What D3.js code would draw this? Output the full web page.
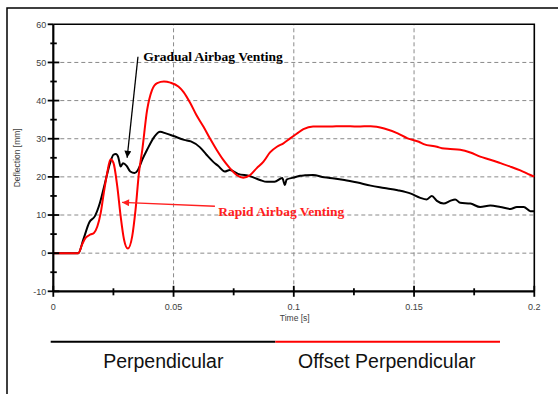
<!DOCTYPE html>
<html><head><meta charset="utf-8">
<script src="https://cdn.jsdelivr.net/npm/d3@7"></script>
<style>html,body{margin:0;padding:0;background:#fff;}svg{display:block;}</style>
</head><body>
<script>
// ---- data ----
const seriesNames = ["Perpendicular", "Offset Perpendicular"];
const seriesColors = ["#000000", "#ff0000"];
const yMajorTicks = [-10, 0, 10, 20, 30, 40, 50, 60];
const yMinorTicks = [-5, 5, 15, 25, 35, 45, 55];
const xMajorTicks = [0, 0.05, 0.1, 0.15, 0.2];
const xMinorTicks = [0.025, 0.075, 0.125, 0.175];
const xTickLabels = ["0", "0.05", "0.1", "0.15", "0.2"];
// [time s, deflection mm]
const perpendicular = [[0,0],[0.0104,0],[0.0125,3.6],[0.015,8.1],[0.0173,9.7],[0.0194,13.2],[0.0215,18.4],[0.0236,23.6],[0.025,25.8],[0.026,26.0],[0.027,25.2],[0.028,22.7],[0.029,23.6],[0.0305,22.9],[0.032,21.4],[0.0338,21.0],[0.0352,21.8],[0.037,24.5],[0.039,27.1],[0.042,30.5],[0.0444,31.8],[0.0468,31.4],[0.05,30.7],[0.0544,29.7],[0.0572,29.3],[0.0609,27.8],[0.0637,25.8],[0.0664,24.0],[0.0685,22.9],[0.0713,21.4],[0.0734,21.8],[0.0768,20.8],[0.0817,20.2],[0.0859,19.2],[0.0888,18.7],[0.092,18.7],[0.0952,19.7],[0.0963,17.9],[0.097,19.3],[0.0998,19.8],[0.1026,20.3],[0.1047,20.4],[0.108,20.5],[0.1126,19.9],[0.1168,19.6],[0.121,19.2],[0.1265,18.5],[0.132,17.7],[0.1376,17.1],[0.1432,16.5],[0.1487,15.6],[0.1526,14.5],[0.1553,14.1],[0.1574,15.0],[0.1595,13.7],[0.1623,13.0],[0.165,13.7],[0.1671,14.1],[0.1692,13.2],[0.1734,13.0],[0.1775,12.1],[0.1817,12.5],[0.1859,12.1],[0.19,11.6],[0.1928,12.1],[0.1956,12.1],[0.1984,11.0],[0.2,11.0]];
const offsetPerpendicular = [[0,0],[0.0104,0],[0.012,2.3],[0.0134,4.0],[0.0155,4.9],[0.0169,5.3],[0.0183,7.0],[0.0197,10.5],[0.021,15.8],[0.0224,21.0],[0.0238,24.6],[0.025,23.7],[0.0266,17.5],[0.028,9.7],[0.0294,3.6],[0.031,1.2],[0.0328,4.4],[0.0342,11.4],[0.0356,21.0],[0.037,27.1],[0.039,37.5],[0.041,42.7],[0.0432,44.6],[0.046,45.0],[0.0487,44.7],[0.052,43.7],[0.0541,42.3],[0.057,39.3],[0.0595,36.2],[0.0624,33.2],[0.0651,30.1],[0.0679,27.1],[0.0706,24.5],[0.0734,22.3],[0.0762,20.5],[0.079,19.8],[0.0817,20.4],[0.0846,22.3],[0.0874,24.0],[0.0901,26.4],[0.093,27.9],[0.0957,28.8],[0.0985,30.1],[0.1012,31.3],[0.104,32.5],[0.108,33.2],[0.1149,33.2],[0.1204,33.3],[0.1265,33.2],[0.132,33.3],[0.1376,32.7],[0.1432,31.4],[0.1473,30.1],[0.152,29.2],[0.154,28.6],[0.1595,27.9],[0.1616,27.5],[0.165,27.3],[0.1692,27.1],[0.1734,26.4],[0.1775,25.3],[0.1817,24.5],[0.1859,23.6],[0.19,22.7],[0.1942,21.7],[0.1984,20.5],[0.2,20.1]];
const annotations = [
  {text: "Gradual Airbag Venting", color: "#000000", tx: 0.0374, ty: 51.5, from: [0.0352, 51.5], to: [0.0307, 25.0]},
  {text: "Rapid Airbag Venting", color: "#ff2020", tx: 0.0686, ty: 10.8, from: [0.0672, 12.3], to: [0.0286, 13.3]}
];

// ---- layout ----
const W = 558, H = 394;
const svg = d3.select("body").append("svg").attr("width", W).attr("height", H);
const x = d3.scaleLinear().domain([0, 0.2]).range([53.3, 534.3]);
const y = d3.scaleLinear().domain([-10, 60]).range([291.3, 24.3]);

// outer frame
svg.append("rect").attr("x", 7).attr("y", 8).attr("width", 600).attr("height", 420)
  .attr("fill", "none").attr("stroke", "#000").attr("stroke-width", 1.5);

// gridlines
const grid = svg.append("g").attr("stroke", "#8a8a8a").attr("stroke-width", 1).attr("stroke-dasharray", "4,3");
grid.selectAll("line.h").data(yMajorTicks.filter(v => v > -10 && v < 60)).join("line")
  .attr("x1", x(0)).attr("x2", x(0.2)).attr("y1", d => y(d)).attr("y2", d => y(d));
grid.selectAll("line.v").data(xMajorTicks.filter(v => v > 0 && v < 0.2)).join("line")
  .attr("class", "v").attr("y1", y(-10)).attr("y2", y(60)).attr("x1", d => x(d)).attr("x2", d => x(d));

// plot border top/right
svg.append("path").attr("d", `M${x(0)},${y(60)}H${x(0.2)}V${y(-10)}`)
  .attr("fill", "none").attr("stroke", "#000").attr("stroke-width", 1.6);

// curves
const line = d3.line().x(d => x(d[0])).y(d => y(d[1])).curve(d3.curveMonotoneX);
[perpendicular, offsetPerpendicular].forEach((s, i) => {
  svg.append("path").datum(s).attr("d", line).attr("fill", "none")
    .attr("stroke", seriesColors[i]).attr("stroke-width", 2).attr("stroke-linejoin", "round");
});

// axes
svg.append("line").attr("x1", x(0)).attr("x2", x(0)).attr("y1", y(60)).attr("y2", y(-10)).attr("stroke", "#000").attr("stroke-width", 2.2);
svg.append("line").attr("x1", x(0)).attr("x2", x(0.2)).attr("y1", y(-10)).attr("y2", y(-10)).attr("stroke", "#000").attr("stroke-width", 2.2);
const tk = svg.append("g").attr("stroke", "#000").attr("stroke-width", 1.8);
tk.selectAll("line.ym").data(yMajorTicks).join("line").attr("class", "ym")
  .attr("x1", x(0) - 5.6).attr("x2", d => d === 60 ? x(0) : x(0) + 6).attr("y1", d => y(d)).attr("y2", d => y(d));
tk.selectAll("line.yn").data(yMinorTicks).join("line").attr("class", "yn")
  .attr("x1", x(0) - 3).attr("x2", x(0) + 3.5).attr("y1", d => y(d)).attr("y2", d => y(d));
tk.selectAll("line.xm").data(xMajorTicks).join("line").attr("class", "xm")
  .attr("y1", y(-10) - 5.5).attr("y2", y(-10) + 5.5).attr("x1", d => x(d)).attr("x2", d => x(d));
tk.selectAll("line.xn").data(xMinorTicks).join("line").attr("class", "xn")
  .attr("y1", y(-10) - 3).attr("y2", y(-10) + 4).attr("x1", d => x(d)).attr("x2", d => x(d));

const lab = svg.append("g").attr("font-family", "Liberation Sans, Arial, sans-serif").attr("font-size", 9).attr("fill", "#404040");
lab.selectAll("text.yl").data(yMajorTicks).join("text").attr("class", "yl")
  .attr("x", x(0) - 7).attr("y", d => y(d) + 3.2).attr("text-anchor", "end").text(d => d);
lab.selectAll("text.xl").data(xMajorTicks).join("text").attr("class", "xl")
  .attr("x", d => x(d)).attr("y", y(-10) + 18.5).attr("text-anchor", "middle").text((d, i) => xTickLabels[i]);
lab.append("text").attr("x", x(0.1) + 1).attr("y", y(-10) + 30).attr("text-anchor", "middle").attr("font-size", 8.5).text("Time [s]");
lab.append("text").attr("transform", `translate(19.5,${(y(60) + y(-10)) / 2}) rotate(-90)`).attr("text-anchor", "middle").attr("font-size", 8.5).text("Deflection [mm]");

// annotations
const defs = svg.append("defs");
annotations.forEach((a, i) => {
  defs.append("marker").attr("id", "ah" + i).attr("viewBox", "0 0 10 10").attr("refX", 10).attr("refY", 5)
    .attr("markerWidth", 9).attr("markerHeight", 7).attr("markerUnits", "userSpaceOnUse").attr("orient", "auto")
    .append("path").attr("d", "M0,0L10,5L0,10z").attr("fill", a.color);
  svg.append("line").attr("x1", x(a.from[0])).attr("y1", y(a.from[1])).attr("x2", x(a.to[0])).attr("y2", y(a.to[1]))
    .attr("stroke", a.color).attr("stroke-width", 1.3).attr("marker-end", `url(#ah${i})`);
  svg.append("text").attr("x", x(a.tx)).attr("y", y(a.ty) + 4.5)
    .attr("font-family", "Liberation Serif, Times New Roman, serif").attr("font-weight", "bold").attr("font-size", 13.5)
    .attr("fill", a.color).text(a.text);
});

// legend
const lx = d3.scaleLinear().domain([0, 2]).range([50.7, 500]);
seriesNames.forEach((n, i) => {
  svg.append("line").attr("x1", lx(i)).attr("x2", lx(i + 1)).attr("y1", 341.7).attr("y2", 341.7)
    .attr("stroke", seriesColors[i]).attr("stroke-width", 2);
});
const legCenters = [163.3, 386.7];
seriesNames.forEach((n, i) => {
  svg.append("text").attr("x", legCenters[i]).attr("y", 368).attr("text-anchor", "middle")
    .attr("font-family", "Liberation Sans, Arial, sans-serif").attr("font-size", 19.5).attr("fill", "#111").text(n);
});
</script>
</body></html>
